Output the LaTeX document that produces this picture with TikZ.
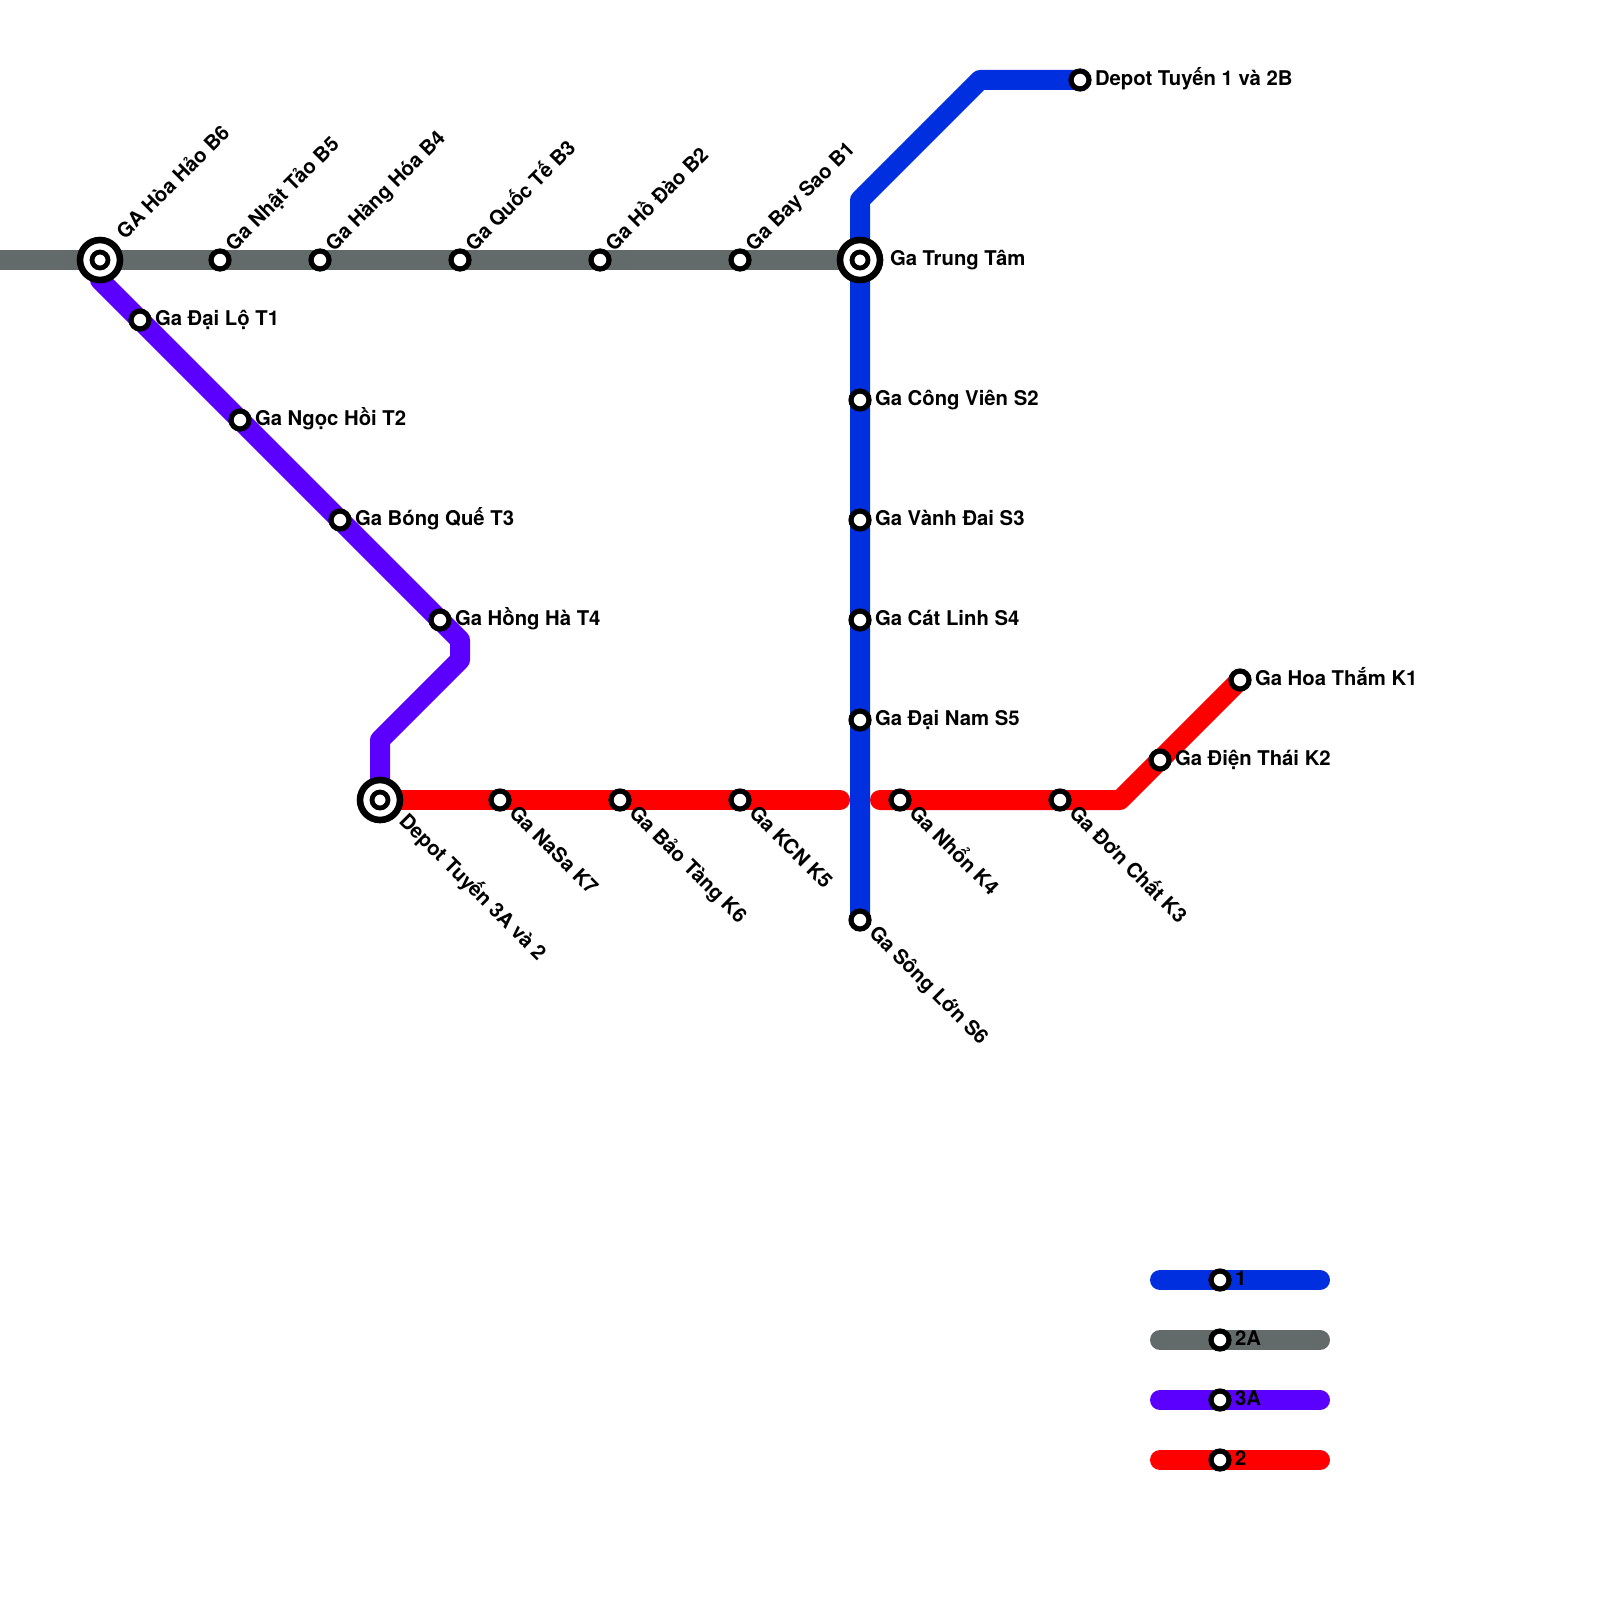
\documentclass[tikz,border=0pt]{standalone}
\usepackage{fontspec}
\setmainfont{TeX Gyre Heros}
\definecolor{lineblue}{HTML}{002FE0}
\definecolor{linegray}{HTML}{626B69}
\definecolor{linepurple}{HTML}{5B00FF}
\definecolor{linered}{HTML}{FF0000}
\pgfdeclarelayer{lines}
\pgfsetlayers{lines,main}
\tikzset{
  route/.style={line width=10pt,line join=round},
  routeround/.style={route,line cap=round},
  stn/.style={circle,draw=black,fill=white,line width=2.6pt,inner sep=0pt,outer sep=0pt,minimum size=9pt},
  hub/.style={circle,draw=black,fill=white,line width=3.3pt,inner sep=0pt,outer sep=0pt,minimum size=20pt},
  hubcore/.style={stn,line width=2.4pt,minimum size=8pt},
  lab/.style={anchor=base west,inner sep=0pt,outer sep=0pt,font=\fontsize{10.15}{12}\selectfont\bfseries},
  labup/.style={lab,rotate=45},
  labdn/.style={lab,rotate=-45}
}
\begin{document}
\begin{tikzpicture}[x=0.5pt,y=-0.5pt]
\useasboundingbox (0,0) rectangle (1600,1600);
% hubs
\node[hub] (hubA) at (100,260) {};
\node[hubcore] (hubAi) at (100,260) {};
\node[hub] (hubT) at (860,260) {};
\node[hubcore] (hubTi) at (860,260) {};
\node[hub] (hubD) at (380,800) {};
\node[hubcore] (hubDi) at (380,800) {};
% gray
\node[stn] (b5) at (220,260) {};
\node[stn] (b4) at (320,260) {};
\node[stn] (b3) at (460,260) {};
\node[stn] (b2) at (600,260) {};
\node[stn] (b1) at (740,260) {};
% blue
\node[stn] (dep1) at (1080,80) {};
\node[stn] (s2) at (860,400) {};
\node[stn] (s3) at (860,520) {};
\node[stn] (s4) at (860,620) {};
\node[stn] (s5) at (860,720) {};
\node[stn] (s6) at (860,920) {};
% purple
\node[stn] (t1) at (140,320) {};
\node[stn] (t2) at (240,420) {};
\node[stn] (t3) at (340,520) {};
\node[stn] (t4) at (440,620) {};
% red
\node[stn] (k7) at (500,800) {};
\node[stn] (k6) at (620,800) {};
\node[stn] (k5) at (740,800) {};
\node[stn] (k4) at (900,800) {};
\node[stn] (k3) at (1060,800) {};
\node[stn] (k2) at (1160,760) {};
\node[stn] (k1) at (1240,680) {};
% legend stations
\node[stn] (l1) at (1220,1280) {};
\node[stn] (l2a) at (1220,1340) {};
\node[stn] (l3a) at (1220,1400) {};
\node[stn] (l2) at (1220,1460) {};
% free ends and bends
\coordinate (gw) at (0,260);
\coordinate (bb1) at (860,200);
\coordinate (bb2) at (980,80);
\coordinate (pb0) at (100,280);
\coordinate (pb1) at (460,640);
\coordinate (pb2) at (460,660);
\coordinate (pb3) at (380,740);
\coordinate (re1) at (840,800);
\coordinate (re2) at (880,800);
\coordinate (rb) at (1120,800);
\coordinate (lb1) at (1160,1280);
\coordinate (le1) at (1320,1280);
\coordinate (lb2) at (1160,1340);
\coordinate (le2) at (1320,1340);
\coordinate (lb3) at (1160,1400);
\coordinate (le3) at (1320,1400);
\coordinate (lb4) at (1160,1460);
\coordinate (le4) at (1320,1460);
\begin{pgfonlayer}{lines}
\draw[routeround,linered] (hubD.center) -- (re1);
\draw[routeround,linered] (re2) -- (rb) -- (k1.center);
\draw[route,linepurple] (hubA.center) -- (pb0) -- (pb1) -- (pb2) -- (pb3) -- (hubD.center);
\draw[route,linegray] (gw) -- (hubT.center);
\draw[route,lineblue] (dep1.center) -- (bb2) -- (bb1) -- (s6.center);
\draw[routeround,lineblue] (lb1) -- (le1);
\draw[routeround,linegray] (lb2) -- (le2);
\draw[routeround,linepurple] (lb3) -- (le3);
\draw[routeround,linered] (lb4) -- (le4);
\end{pgfonlayer}
% labels
\node[labup] (tA) at ([shift={(25,-20)}]hubA.center) {GA Hòa Hảo B6};
\node[labup] (tb5) at ([shift={(14,-8)}]b5.center) {Ga Nhật Tảo B5};
\node[labup] (tb4) at ([shift={(14,-8)}]b4.center) {Ga Hàng Hóa B4};
\node[labup] (tb3) at ([shift={(14,-8)}]b3.center) {Ga Quốc Tế B3};
\node[labup] (tb2) at ([shift={(14,-8)}]b2.center) {Ga Hồ Đào B2};
\node[labup] (tb1) at ([shift={(14,-8)}]b1.center) {Ga Bay Sao B1};
\node[lab] (tT) at ([shift={(30,5)}]hubT.center) {Ga Trung Tâm};
\node[lab] (tdep1) at ([shift={(15,6)}]dep1.center) {Depot Tuyến 1 và 2B};
\node[lab] (ts2) at ([shift={(15,5)}]s2.center) {Ga Công Viên S2};
\node[lab] (ts3) at ([shift={(15,5)}]s3.center) {Ga Vành Đai S3};
\node[lab] (ts4) at ([shift={(15,5)}]s4.center) {Ga Cát Linh S4};
\node[lab] (ts5) at ([shift={(15,5)}]s5.center) {Ga Đại Nam S5};
\node[labdn] (ts6) at ([shift={(8,14)}]s6.center) {Ga Sông Lớn S6};
\node[lab] (tt1) at ([shift={(15,5)}]t1.center) {Ga Đại Lộ T1};
\node[lab] (tt2) at ([shift={(15,5)}]t2.center) {Ga Ngọc Hồi T2};
\node[lab] (tt3) at ([shift={(15,5)}]t3.center) {Ga Bóng Quế T3};
\node[lab] (tt4) at ([shift={(15,5)}]t4.center) {Ga Hồng Hà T4};
\node[labdn] (tD) at ([shift={(18,22)}]hubD.center) {Depot Tuyến 3A và 2};
\node[labdn] (tk7) at ([shift={(8,14)}]k7.center) {Ga NaSa K7};
\node[labdn] (tk6) at ([shift={(8,14)}]k6.center) {Ga Bảo Tàng K6};
\node[labdn] (tk5) at ([shift={(8,14)}]k5.center) {Ga KCN K5};
\node[labdn] (tk4) at ([shift={(8,14)}]k4.center) {Ga Nhổn K4};
\node[labdn] (tk3) at ([shift={(8,14)}]k3.center) {Ga Đơn Chất K3};
\node[lab] (tk2) at ([shift={(15,5)}]k2.center) {Ga Điện Thái K2};
\node[lab] (tk1) at ([shift={(15,5)}]k1.center) {Ga Hoa Thắm K1};
\node[lab] (tl1) at ([shift={(15,5)}]l1.center) {1};
\node[lab] (tl2a) at ([shift={(15,5)}]l2a.center) {2A};
\node[lab] (tl3a) at ([shift={(15,5)}]l3a.center) {3A};
\node[lab] (tl2) at ([shift={(15,5)}]l2.center) {2};
\end{tikzpicture}
\end{document}
